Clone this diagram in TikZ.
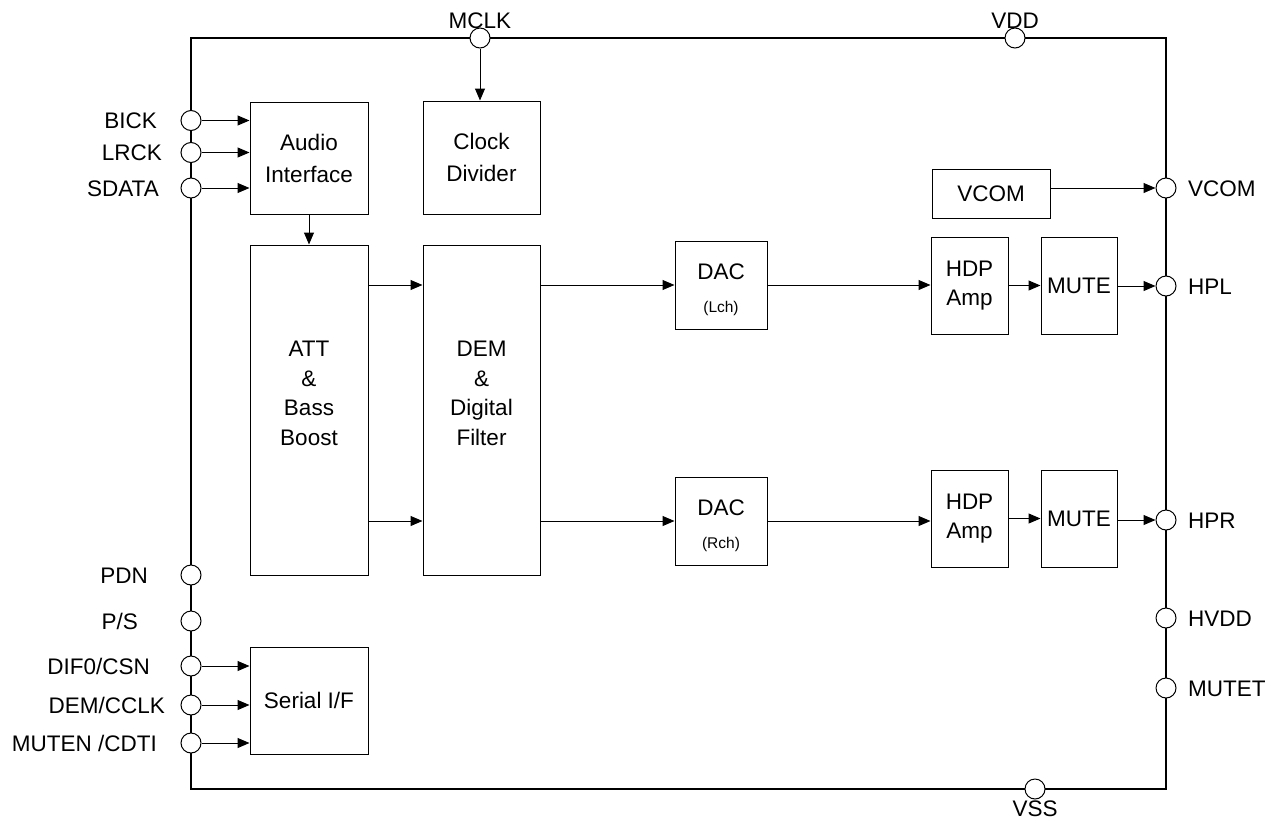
\documentclass[tikz,border=0pt]{standalone}
\usepackage{fontspec}
\setmainfont{Liberation Sans}
\usetikzlibrary{arrows.meta}
\begin{document}
\begin{tikzpicture}[x=1pt,y=-1pt,
 blk/.style={draw,line width=1pt,inner sep=0pt,align=center,font=\fontsize{22.5}{29.5}\selectfont},
 txt/.style={inner sep=0pt,align=center,font=\fontsize{22.5}{29.5}\selectfont},
 pin/.style={draw,circle,line width=1pt,fill=white,minimum size=20pt,inner sep=0pt},
 lbl/.style={inner sep=0pt,font=\fontsize{22.5}{26}\selectfont},
 arr/.style={line width=1pt,-{Triangle[length=12pt,width=10pt]}}]
\useasboundingbox (0,0) rectangle (1280,825);
\draw[line width=2.2pt] (191,38) rectangle (1166,789);
% blocks
\node[blk,minimum width=118pt,minimum height=112pt,font=\fontsize{22.5}{32}\selectfont] (ai) at (309,158) {Audio\\Interface};
\node[blk,minimum width=117pt,minimum height=113pt,font=\fontsize{22.5}{32}\selectfont] (cd) at (481.5,157.5) {Clock\\Divider};
\node[blk,minimum width=118pt,minimum height=330pt] (att) at (309,410) {};
\node[txt] (atttxt) at ([yshift=16.5pt]att.center) {ATT\\\&\\Bass\\Boost};
\node[blk,minimum width=117pt,minimum height=330pt] (dem) at (481.5,410) {};
\node[txt] (demtxt) at ([yshift=16.5pt]dem.center) {DEM\\\&\\Digital\\Filter};
\node[blk,minimum width=92pt,minimum height=88pt,font=\fontsize{22.5}{33}\selectfont] (dacl) at (721,285) {\rule{0pt}{26pt}DAC\\{\fontsize{15.5}{17}\selectfont (Lch)}};
\node[blk,minimum width=92pt,minimum height=88pt,font=\fontsize{22.5}{33}\selectfont] (dacr) at (721,521) {\rule{0pt}{26pt}DAC\\{\fontsize{15.5}{17}\selectfont (Rch)}};
\node[blk,minimum width=118pt,minimum height=49pt] (vcomb) at (991,193.5) {VCOM};
\node[blk,minimum width=77pt,minimum height=97pt,font=\fontsize{22.5}{28.5}\selectfont] (hdpl) at (969.5,285.5) {HDP\\Amp};
\node[blk,minimum width=76pt,minimum height=97pt] (mutel) at (1079,285.5) {MUTE};
\node[blk,minimum width=77pt,minimum height=97pt,font=\fontsize{22.5}{28.5}\selectfont] (hdpr) at (969.5,518.5) {HDP\\Amp};
\node[blk,minimum width=76pt,minimum height=97pt] (muter) at (1079,518.5) {MUTE};
\node[blk,minimum width=118pt,minimum height=107pt] (sif) at (309,700.5) {Serial I/F};
% pins
\node[pin] (bick) at (191,120.5) {};
\node[pin] (lrck) at (191,152.5) {};
\node[pin] (sdata) at (191,188) {};
\node[pin] (pdn) at (191,575) {};
\node[pin] (ps) at (191,621) {};
\node[pin] (dif) at (191,666) {};
\node[pin] (dem2) at (191,705) {};
\node[pin] (muten) at (191,743) {};
\node[pin] (mclk) at (480,38) {};
\node[pin] (vdd) at (1015,38) {};
\node[pin] (vss) at (1035,789) {};
\node[pin] (vcom) at (1166,188) {};
\node[pin] (hpl) at (1166,286) {};
\node[pin] (hpr) at (1166,520) {};
\node[pin] (hvdd) at (1166,618) {};
\node[pin] (mutet) at (1166,688) {};
% pin labels
\node[lbl,anchor=base east] (tbick) at (157,128.5) {BICK};
\node[lbl,anchor=base east] (tlrck) at (162,160.5) {LRCK};
\node[lbl,anchor=base east] (tsdata) at (159,196) {SDATA};
\node[lbl,anchor=base east] (tpdn) at (148,583) {PDN};
\node[lbl,anchor=base east] (tps) at (138,629) {P/S};
\node[lbl,anchor=base east] (tdif) at (150,674) {DIF0/CSN};
\node[lbl,anchor=base east] (tdem) at (165,713) {DEM/CCLK};
\node[lbl,anchor=base east] (tmuten) at (157,751) {MUTEN /CDTI};
\node[lbl,anchor=base] (tmclk) at (480,28) {MCLK};
\node[lbl,anchor=base] (tvdd) at (1015,28) {VDD};
\node[lbl,anchor=base] (tvss) at (1035,816) {VSS};
\node[lbl,anchor=base west] (tvcom) at (1188,196) {VCOM};
\node[lbl,anchor=base west] (thpl) at (1188,294) {HPL};
\node[lbl,anchor=base west] (thpr) at (1188,528) {HPR};
\node[lbl,anchor=base west] (thvdd) at (1188,626) {HVDD};
\node[lbl,anchor=base west] (tmutet) at (1188,696) {MUTET};
% connectors
\draw[arr] (bick) -- (ai.west |- bick);
\draw[arr] (lrck) -- (ai.west |- lrck);
\draw[arr] (sdata) -- (ai.west |- sdata);
\draw[arr] (mclk) -- (cd.north -| mclk);
\draw[arr] (ai.south) -- (att.north);
\draw[arr] (att.east |- dacl) -- (dem.west |- dacl);
\draw[arr] (att.east |- dacr) -- (dem.west |- dacr);
\draw[arr] (dem.east |- dacl) -- (dacl.west);
\draw[arr] (dem.east |- dacr) -- (dacr.west);
\draw[arr] (dacl.east) -- (hdpl.west |- dacl);
\draw[arr] (dacr.east) -- (hdpr.west |- dacr);
\draw[arr] (hdpl.east) -- (mutel.west);
\draw[arr] (hdpr.east) -- (muter.west);
\draw[arr] (mutel.east |- hpl) -- (hpl);
\draw[arr] (muter.east |- hpr) -- (hpr);
\draw[arr] (vcomb.east |- vcom) -- (vcom);
\draw[arr] (dif) -- (sif.west |- dif);
\draw[arr] (dem2) -- (sif.west |- dem2);
\draw[arr] (muten) -- (sif.west |- muten);
\end{tikzpicture}
\end{document}
